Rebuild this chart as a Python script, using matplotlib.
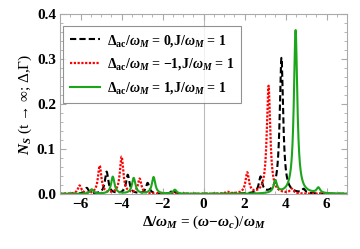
import numpy as np
import matplotlib
matplotlib.use("Agg")
import matplotlib.pyplot as plt
from matplotlib.ticker import MultipleLocator

plt.rcParams['font.family'] = ['Liberation Serif', 'DejaVu Serif']
plt.rcParams['font.weight'] = 'bold'
plt.rcParams['mathtext.fontset'] = 'custom'
plt.rcParams['mathtext.rm'] = 'Liberation Serif:bold'
plt.rcParams['mathtext.bf'] = 'Liberation Serif:bold'
plt.rcParams['mathtext.it'] = 'Liberation Serif:italic:bold'

# peak positions / heights (Delta/omega_M, N_S)
black_pos = [-5.7, -4.73, -3.7, -2.73, -1.5, 2.78, 3.8, 4.88]
black_hgt = [0.013, 0.049, 0.042, 0.024, 0.008, 0.036, 0.302, 0.009]
red_pos = [-6.05, -5.07, -4.0, -3.12, 1.17, 2.13, 3.17, 4.3]
red_hgt = [0.018, 0.062, 0.082, 0.033, 0.004, 0.046, 0.240, 0.010]
green_pos = [-5.46, -4.43, -3.41, -2.44, -1.4, 3.5, 4.49, 5.6]
green_hgt = [0.010, 0.038, 0.035, 0.037, 0.009, 0.027, 0.364, 0.012]
gamma = 0.1

x = np.linspace(-7, 7, 2000)

def spectrum(pos, hgt):
    y = np.zeros_like(x)
    for p, h in zip(pos, hgt):
        y += h * gamma**2 / ((x - p)**2 + gamma**2)
    return y

fig = plt.figure(figsize=(3.6, 2.49), dpi=100)
ax = fig.add_axes([0.167, 0.221, 0.797, 0.723])

ax.axvline(0, color='#bbbbbb', lw=0.8, zorder=0)
ax.plot(x, spectrum(black_pos, black_hgt), color='black', ls=(0, (3, 1.5)), lw=1.5,
        label=r'$\Delta_{\mathrm{ac}}/\omega_M$ = 0,J/$\omega_M$ = 1')
ax.plot(x, spectrum(red_pos, red_hgt), color='red', ls=(0, (1, 0.7)), lw=1.6,
        label=r'$\Delta_{\mathrm{ac}}/\omega_M$ = $-$1,J/$\omega_M$ = 1')
ax.plot(x, spectrum(green_pos, green_hgt), color='#1aa51a', ls='-', lw=1.5,
        label=r'$\Delta_{\mathrm{ac}}/\omega_M$ = 1,J/$\omega_M$ = 1')

ax.set_xlim(-7, 7)
ax.set_ylim(0, 0.4)
ax.xaxis.set_major_locator(MultipleLocator(2))
ax.xaxis.set_minor_locator(MultipleLocator(0.5))
ax.yaxis.set_major_locator(MultipleLocator(0.1))
ax.yaxis.set_minor_locator(MultipleLocator(0.02))
ax.yaxis.set_major_formatter(plt.FormatStrFormatter('%.1f'))
ax.xaxis.set_major_formatter(plt.FuncFormatter(lambda v, p: f'{int(v)}'.replace('-', '\u2212')))

for s in ax.spines.values():
    s.set_color('#aaaaaa')
    s.set_linewidth(0.8)
ax.tick_params(which='both', direction='in', top=True, right=True, color='#aaaaaa',
               labelsize=11, pad=3)
ax.tick_params(which='major', length=4)
ax.tick_params(which='minor', length=2)
for lab in ax.get_xticklabels() + ax.get_yticklabels():
    lab.set_fontweight('bold')

ax.set_xlabel(r'$\Delta/\omega_M$ = ($\omega$$-$$\omega_c$)/$\omega_M$', fontsize=11, labelpad=2)
ax.set_ylabel(r'$N_S$ (t ' + '\u2192 \u221e; \u0394,\u0393)', fontsize=11, labelpad=2)

leg = ax.legend(loc='upper left', bbox_to_anchor=(0.0, 0.95), fontsize=10, frameon=True,
                fancybox=False, handlelength=2.2, borderpad=0.5, labelspacing=0.55,
                handletextpad=0.5, borderaxespad=0.2)
leg.get_frame().set_edgecolor('#777777')
leg.get_frame().set_linewidth(0.8)
for t in leg.get_texts():
    t.set_fontweight('bold')

fig.savefig('out.png', dpi=100)
